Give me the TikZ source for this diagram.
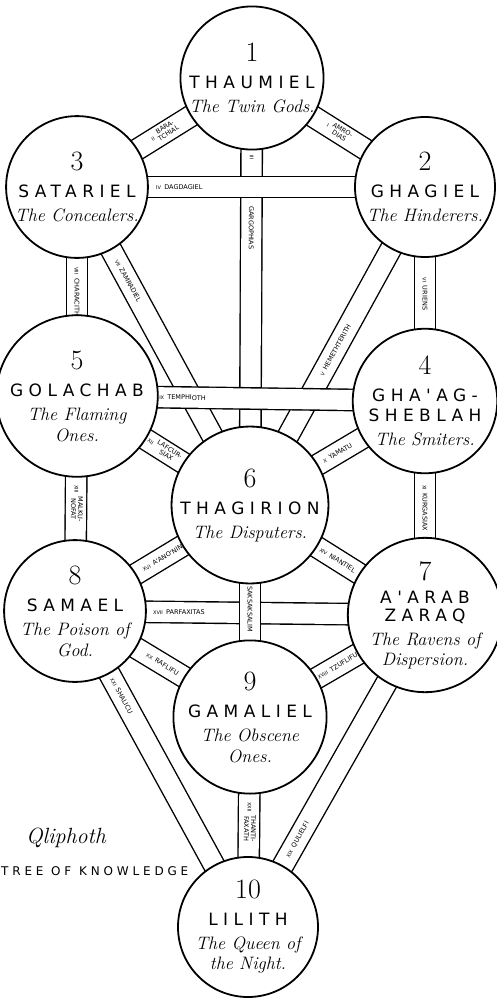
\documentclass[tikz,border=0pt]{standalone}
\usepackage{fontspec}
\newfontfamily\capsfont[LetterSpace=32]{DejaVu Sans}
\newfontfamily\tunnelfont{DejaVu Sans}
\newcommand{\snum}[1]{{\fontsize{28}{28}\selectfont #1}}
\newcommand{\sname}[1]{{\capsfont\fontsize{17}{17}\selectfont #1}}
\newcommand{\sdesc}[1]{{\itshape\fontsize{18}{18}\selectfont #1}}
\newcommand{\atu}[1]{{\fontsize{5}{5}\selectfont #1}\enspace}
\newcommand{\tlines}[2]{\begin{tabular}{@{}c@{}}#1\\#2\end{tabular}}
\usetikzlibrary{backgrounds}

\begin{document}
\begin{tikzpicture}[x=1pt, y=-1pt,
		sephira/.style={circle, draw, line width=1.8pt, fill=white,
			minimum size=140pt, inner sep=0pt, align=center,
			font=\fontsize{14}{18}\selectfont},
		tunnel/.style={draw, line width=1.4pt, double=white, double distance=20pt},
		tlabel/.style={sloped, allow upside down, inner sep=0.5pt,
			font=\tunnelfont\fontsize{6.5}{7}\selectfont}
	]
		\useasboundingbox (0,0) rectangle (497,999);

		\node[sephira] (thaumiel) at (252,78) {\snum{1}\\[9pt]\sname{THAUMIEL}\\[6pt]\sdesc{The Twin Gods.}};
		\node[sephira] (ghagiel) at (425,187) {\snum{2}\\[9pt]\sname{GHAGIEL}\\[6pt]\sdesc{The Hinderers.}};
		\node[sephira] (satariel) at (77,187) {\snum{3}\\[9pt]\sname{SATARIEL}\\[6pt]\sdesc{The Concealers.}};
		\node[sephira] (ghaagsheblah) at (425,401) {\snum{4}\\[9pt]\sname{GHA'AG-}\\[2pt]\sname{SHEBLAH}\\[6pt]\sdesc{The Smiters.}};
		\node[sephira] (golachab) at (77,396) {\snum{5}\\[9pt]\sname{GOLACHAB}\\[6pt]\sdesc{The Flaming}\\[3pt]\sdesc{Ones.}};
		\node[sephira] (thagirion) at (250,505) {\snum{6}\\[9pt]\sname{THAGIRION}\\[6pt]\sdesc{The Disputers.}};
		\node[sephira] (aarab) at (425,615) {\snum{7}\\[5pt]\sname{A'ARAB}\\[0pt]\sname{ZARAQ}\\[6pt]\sdesc{The Ravens of}\\[2pt]\sdesc{Dispersion.}};
		\node[sephira] (samael) at (75,611) {\snum{8}\\[9pt]\sname{SAMAEL}\\[6pt]\sdesc{The Poison of}\\[3pt]\sdesc{God.}};
		\node[sephira] (gamaliel) at (250,717) {\snum{9}\\[9pt]\sname{GAMALIEL}\\[6pt]\sdesc{The Obscene}\\[3pt]\sdesc{Ones.}};
		\node[sephira] (lilith) at (248,927) {\snum{10}\\[9pt]\sname{LILITH}\\[6pt]\sdesc{The Queen of}\\[2pt]\sdesc{the Night.}};

		\node[font=\itshape\fontsize{22}{22}\selectfont] (qliphoth) at (66,838) {Qliphoth};
		\node[anchor=west, inner sep=0pt, font=\capsfont\fontsize{12}{12}\selectfont] (tree) at (1,871) {TREE OF KNOWLEDGE};

		\begin{pgfonlayer}{background}
			\draw[tunnel] (thaumiel.center) -- (ghagiel.center) node[tlabel, pos=.5] {\atu{I}\tlines{AMRO-}{DIAS}};
			\draw[tunnel] (satariel.center) -- (thaumiel.center) node[tlabel, pos=.5] {\atu{II}\tlines{BARA-}{TCHIAL}};
			\draw[tunnel] (ghagiel.center) -- (ghaagsheblah.center) node[tlabel, pos=.5] {\atu{VI}URIENS};
			\draw[tunnel] (satariel.center) -- (golachab.center) node[tlabel, pos=.5] {\atu{VIII}CHARACITH};
			\draw[tunnel] (thagirion.center) -- (ghaagsheblah.center) node[tlabel, pos=.5] {\atu{X}YAMATU};
			\draw[tunnel] (ghaagsheblah.center) -- (aarab.center) node[tlabel, pos=.5] {\atu{XI}KURGASIAX};
			\draw[tunnel] (golachab.center) -- (thagirion.center) node[tlabel, pos=.5] {\atu{XII}\tlines{LAFCUR-}{SIAX}};
			\draw[tunnel] (golachab.center) -- (samael.center) node[tlabel, pos=.5] {\atu{XIII}\tlines{MALKU-}{NOFAT}};
			\draw[tunnel] (thagirion.center) -- (aarab.center) node[tlabel, pos=.5] {\atu{XIV}NIANTIEL};
			\draw[tunnel] (samael.center) -- (thagirion.center) node[tlabel, pos=.5] {\atu{XVI}A'ANO'NIN};
			\draw[tunnel] (gamaliel.center) -- (aarab.center) node[tlabel, pos=.5] {\atu{XVIII}TZUFLIFU};
			\draw[tunnel] (lilith.center) -- (aarab.center) node[tlabel, pos=.22, anchor=west] {\atu{XIX}QULIELFI};
			\draw[tunnel] (samael.center) -- (gamaliel.center) node[tlabel, pos=.5] {\atu{XX}RAFLIFU};
			\draw[tunnel] (samael.center) -- (lilith.center) node[tlabel, pos=.21, anchor=west] {\atu{XXI}SHALICU};
			\draw[tunnel] (gamaliel.center) -- (lilith.center) node[tlabel, pos=.5] {\atu{XXII}\tlines{THANTI-}{FAXATH}};

			\draw[tunnel] (thaumiel.center) -- (thagirion.center)
				node[tlabel, pos=.19] {\atu{III}}
				node[tlabel, pos=.297, anchor=west] {GARGOPHIAS};
			\draw[tunnel] (satariel.center) -- (thagirion.center) node[tlabel, pos=.226, anchor=west] {\atu{VII}ZAMRADIEL};
			\draw[tunnel] (thagirion.center) -- (ghagiel.center) node[tlabel, pos=.405, anchor=west] {\atu{V}HEMETHTERITH};
			\draw[tunnel] (satariel.center) -- (ghagiel.center) node[tlabel, pos=.224, anchor=west] {\atu{IV}DAGDAGIEL};
			\draw[tunnel] (golachab.center) -- (ghaagsheblah.center) node[tlabel, pos=.233, anchor=west] {\atu{IX}TEMPHIOTH};

			\draw[tunnel] (samael.center) -- (aarab.center) node[tlabel, pos=.22, anchor=west] {\atu{XVII}PARFAXITAS};
			\draw[tunnel] (thagirion.center) -- (gamaliel.center) node[tlabel, pos=.33, anchor=west] {\atu{XV}SAKSAKSALIM};
		\end{pgfonlayer}
	\end{tikzpicture}
\end{document}
